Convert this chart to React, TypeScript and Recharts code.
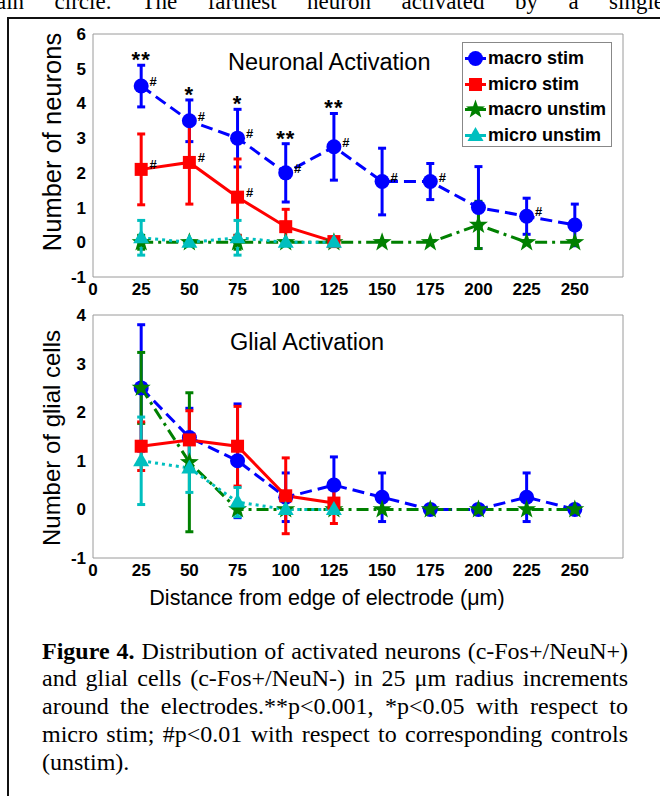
import React from "react";
import { LineChart, Line, XAxis, YAxis, ErrorBar, LabelList } from "recharts";

const SANS = "'Liberation Sans', Arial, sans-serif";
const SERIF = "'Liberation Serif', 'Times New Roman', serif";
const FRAME = "#9a9a9a";

// x positions (µm from electrode edge)
const distances = [25, 50, 75, 100, 125, 150, 175, 200, 225, 250];
const xTicks = [0, 25, 50, 75, 100, 125, 150, 175, 200, 225, 250];
const neuronTicks = [-1, 0, 1, 2, 3, 4, 5, 6];
const glialTicks = [-1, 0, 1, 2, 3, 4];

// neuronal activation
const nMacroStim = [4.5, 3.5, 3.0, 2.0, 2.75, 1.75, 1.75, 1.0, 0.75, 0.5];
const nMacroStimErr = [0.6, 0.6, 0.83, 0.84, 0.96, 0.96, 0.52, 1.18, 0.52, 0.6];
const nMicroStim = [2.1, 2.3, 1.3, 0.45, 0.02, null, null, null, null, null];
const nMicroStimErr = [1.02, 1.2, 1.1, 0.5, 0.05, null, null, null, null, null];
const nMacroUnstim = [0, 0, 0, 0, 0, 0, 0, 0.5, 0, 0];
const nMacroUnstimErr = [0.2, 0, 0.2, 0, 0, 0, 0, 0.68, 0, 0];
const nMicroUnstim = [0.13, 0, 0.13, 0, 0, null, null, null, null, null];
const nMicroUnstimErr = [0.5, 0, 0.5, 0, 0, null, null, null, null, null];
const nMacroSig = ["**", "*", "*", "**", "**", "", "", "", "", ""];
const nMacroHash = ["#", "#", "#", "#", "#", "#", "#", "", "#", ""];
const nMicroHash = ["#", "#", "#", "", "", "", "", "", "", ""];

// glial activation
const gMacroStim = [2.5, 1.48, 1.0, 0.25, 0.5, 0.25, 0, 0, 0.25, 0];
const gMacroStimErr = [1.3, 0.6, 1.17, 0.5, 0.58, 0.5, 0, 0, 0.5, 0];
const gMicroStim = [1.3, 1.43, 1.3, 0.28, 0.13, null, null, null, null, null];
const gMicroStimErr = [0.5, 0.6, 0.82, 0.78, 0.42, null, null, null, null, null];
const gMacroUnstim = [2.5, 0.97, 0, 0, 0, 0, 0, 0, 0, 0];
const gMacroUnstimErr = [0.73, 1.43, 0, 0, 0, 0, 0, 0, 0, 0];
const gMicroUnstim = [1.0, 0.85, 0.15, 0, 0, null, null, null, null, null];
const gMicroUnstimErr = [0.9, 0.5, 0.3, 0, 0, null, null, null, null, null];

const STYLE: Record<string, any> = {
  macroStim: { color: "#0000ff", dash: "12 6", shape: "circle", label: "macro stim" },
  microStim: { color: "#ff0000", dash: undefined, shape: "square", label: "micro stim" },
  macroUnstim: { color: "#008000", dash: "12 5 3 5", shape: "star", label: "macro unstim" },
  microUnstim: { color: "#00bfbf", dash: "3 4", shape: "triangle", label: "micro unstim" },
};
const DRAW_ORDER = ["macroStim", "macroUnstim", "microStim", "microUnstim"];
const LEGEND_ORDER = ["macroStim", "microStim", "macroUnstim", "microUnstim"];

const neuronRows = distances.map((d, i) => ({
  d,
  macroStim: nMacroStim[i],
  macroStimErr: nMacroStimErr[i],
  microStim: nMicroStim[i],
  microStimErr: nMicroStimErr[i],
  macroUnstim: nMacroUnstim[i],
  macroUnstimErr: nMacroUnstimErr[i],
  microUnstim: nMicroUnstim[i],
  microUnstimErr: nMicroUnstimErr[i],
  macroStimHash: nMacroHash[i],
  microStimHash: nMicroHash[i],
  sigTop: nMacroSig[i] ? nMacroStim[i] + nMacroStimErr[i] : null,
  sig: nMacroSig[i],
}));

const glialRows = distances.map((d, i) => ({
  d,
  macroStim: gMacroStim[i],
  macroStimErr: gMacroStimErr[i],
  microStim: gMicroStim[i],
  microStimErr: gMicroStimErr[i],
  macroUnstim: gMacroUnstim[i],
  macroUnstimErr: gMacroUnstimErr[i],
  microUnstim: gMicroUnstim[i],
  microUnstimErr: gMicroUnstimErr[i],
}));

function starPoints(cx: number, cy: number, R: number, r: number) {
  const pts: string[] = [];
  for (let k = 0; k < 10; k++) {
    const rad = k % 2 === 0 ? R : r;
    const a = -Math.PI / 2 + (k * Math.PI) / 5;
    pts.push(`${cx + rad * Math.cos(a)},${cy + rad * Math.sin(a)}`);
  }
  return pts.join(" ");
}

function Marker({ shape, cx, cy, color, k }: any) {
  if (shape === "circle") return <circle key={k} cx={cx} cy={cy} r={7.5} fill={color} />;
  if (shape === "square")
    return <rect key={k} x={cx - 6.5} y={cy - 6.5} width={13} height={13} fill={color} />;
  if (shape === "star")
    return <polygon key={k} points={starPoints(cx, cy, 10, 4)} fill={color} />;
  return (
    <polygon
      key={k}
      points={`${cx},${cy - 8.5} ${cx - 8},${cy + 5.5} ${cx + 8},${cy + 5.5}`}
      fill={color}
    />
  );
}

const makeDot = (name: string) => (props: any) => {
  const { cx, cy, index, value } = props;
  if (cx == null || cy == null || value == null) return <g key={index} />;
  const s = STYLE[name];
  return <Marker k={index} shape={s.shape} cx={cx} cy={cy} color={s.color} />;
};

const HashLabel = (props: any) => {
  const { x, y, value, index } = props;
  if (!value || x == null || y == null) return <g key={index} />;
  return (
    <text
      key={index}
      x={x + 12}
      y={y}
      fontSize={13}
      fontWeight="bold"
      fontFamily={SANS}
      fill="#000"
      textAnchor="middle"
    >
      {value}
    </text>
  );
};

const SigLabel = (props: any) => {
  const { x, y, value, index } = props;
  if (!value || x == null || y == null) return <g key={index} />;
  return (
    <text
      key={index}
      x={x}
      y={y + 2}
      fontSize={22}
      fontWeight="bold"
      fontFamily={SANS}
      fill="#000"
      textAnchor="middle"
      letterSpacing={1}
    >
      {value}
    </text>
  );
};

function Panel({ rows, yTicks, top, height, marginTop, annotate }: any) {
  const yDomain = [yTicks[0], yTicks[yTicks.length - 1]];
  const tickFont = { fill: "#000", fontSize: 17, fontWeight: "bold", fontFamily: SANS };
  return (
    <div style={{ position: "absolute", left: 0, top }}>
      <LineChart
        width={660}
        height={height}
        data={rows}
        margin={{ top: marginTop, right: 37, left: 53, bottom: 0 }}
      >
        <XAxis
          dataKey="d"
          type="number"
          domain={[0, 275]}
          ticks={xTicks}
          interval={0}
          height={23}
          tickLine={false}
          tickSize={0}
          tickMargin={6}
          axisLine={{ stroke: FRAME }}
          tick={tickFont}
        />
        <XAxis
          xAxisId="top"
          orientation="top"
          mirror
          dataKey="d"
          type="number"
          domain={[0, 275]}
          ticks={xTicks}
          interval={0}
          tick={false}
          tickSize={4}
          tickLine={{ stroke: FRAME }}
          axisLine={{ stroke: FRAME }}
        />
        <XAxis
          xAxisId="bm"
          orientation="bottom"
          mirror
          dataKey="d"
          type="number"
          domain={[0, 275]}
          ticks={xTicks}
          interval={0}
          tick={false}
          tickSize={4}
          tickLine={{ stroke: FRAME }}
          axisLine={false}
        />
        <YAxis
          type="number"
          domain={yDomain}
          ticks={yTicks}
          interval={0}
          width={40}
          tickLine={false}
          tickSize={0}
          tickMargin={7}
          axisLine={{ stroke: FRAME }}
          tick={tickFont}
        />
        <YAxis
          yAxisId="right"
          orientation="right"
          mirror
          type="number"
          domain={yDomain}
          ticks={yTicks}
          interval={0}
          tick={false}
          tickSize={4}
          tickLine={{ stroke: FRAME }}
          axisLine={{ stroke: FRAME }}
        />
        <YAxis
          yAxisId="lm"
          orientation="left"
          mirror
          type="number"
          domain={yDomain}
          ticks={yTicks}
          interval={0}
          tick={false}
          tickSize={4}
          tickLine={{ stroke: FRAME }}
          axisLine={false}
        />
        {DRAW_ORDER.map((name) => {
          const s = STYLE[name];
          return (
            <Line
              key={name}
              type="linear"
              dataKey={name}
              stroke={s.color}
              strokeWidth={3}
              strokeDasharray={s.dash}
              dot={makeDot(name)}
              activeDot={false}
              isAnimationActive={false}
            >
              <ErrorBar
                dataKey={name + "Err"}
                width={4}
                strokeWidth={3}
                stroke={s.color}
                isAnimationActive={false}
              />
              {annotate && (name === "macroStim" || name === "microStim") && (
                <LabelList dataKey={name + "Hash"} content={HashLabel} />
              )}
            </Line>
          );
        })}
        {annotate && (
          <Line
            dataKey="sigTop"
            stroke="none"
            dot={false}
            activeDot={false}
            isAnimationActive={false}
          >
            <LabelList dataKey="sig" content={SigLabel} />
          </Line>
        )}
      </LineChart>
    </div>
  );
}

function LegendBox() {
  return (
    <div
      style={{
        position: "absolute",
        left: 462,
        top: 42,
        width: 150,
        height: 105,
        border: "1px solid #888",
        background: "#fff",
        boxSizing: "border-box",
      }}
    >
      {LEGEND_ORDER.map((name, i) => {
        const s = STYLE[name];
        return (
          <div
            key={name}
            style={{ position: "absolute", left: 0, top: 3 + i * 25.6, height: 25, display: "flex", alignItems: "center" }}
          >
            <svg width={25} height={25} style={{ display: "block" }}>
              <line x1={2} y1={12.5} x2={23} y2={12.5} stroke={s.color} strokeWidth={3} />
              <Marker shape={s.shape} cx={12.5} cy={12.5} color={s.color} k={name} />
            </svg>
            <span style={{ fontFamily: SANS, fontWeight: "bold", fontSize: 18, color: "#000", whiteSpace: "nowrap" }}>
              {s.label}
            </span>
          </div>
        );
      })}
    </div>
  );
}

const abs = (extra: any) => ({ position: "absolute" as const, whiteSpace: "nowrap" as const, ...extra });

const captionLines = [
  " Distribution of activated neurons (c-Fos+/NeuN+)",
  "and glial cells (c-Fos+/NeuN-) in 25 μm radius increments",
  "around the electrodes.**p<0.001, *p<0.05 with respect to",
  "micro stim; #p<0.01 with respect to corresponding controls",
  "(unstim).",
];

export default function App() {
  return (
    <div
      style={{
        position: "absolute",
        left: 0,
        top: 0,
        width: 660,
        height: 796,
        overflow: "hidden",
        background: "#fff",
      }}
    >
      <div
        style={abs({
          left: -4,
          top: -9,
          width: 668,
          fontFamily: SERIF,
          fontSize: 23,
          lineHeight: "22px",
          textAlign: "justify",
          textAlignLast: "justify",
        })}
      >
        ain circle. The farthest neuron activated by a single
      </div>
      <div
        style={{
          position: "absolute",
          left: 7,
          top: 17,
          width: 700,
          height: 800,
          borderLeft: "2px solid #111",
          borderTop: "2px solid #111",
        }}
      />

      <Panel rows={neuronRows} yTicks={neuronTicks} top={0} height={300} marginTop={34} annotate />
      <Panel rows={glialRows} yTicks={glialTicks} top={300} height={281} marginTop={15} annotate={false} />
      <LegendBox />

      <div style={abs({ left: 228, top: 62, transform: "translateY(-50%)", fontFamily: SANS, fontSize: 23.5 })}>
        Neuronal Activation
      </div>
      <div style={abs({ left: 230, top: 342, transform: "translateY(-50%)", fontFamily: SANS, fontSize: 23.5 })}>
        Glial Activation
      </div>
      <div
        style={abs({
          left: 52,
          top: 142,
          transform: "translate(-50%, -50%) rotate(-90deg)",
          fontFamily: SANS,
          fontSize: 25.5,
        })}
      >
        Number of neurons
      </div>
      <div
        style={abs({
          left: 52,
          top: 438,
          transform: "translate(-50%, -50%) rotate(-90deg)",
          fontFamily: SANS,
          fontSize: 24,
        })}
      >
        Number of glial cells
      </div>
      <div
        style={abs({
          left: 327,
          top: 598,
          transform: "translate(-50%, -50%)",
          fontFamily: SANS,
          fontSize: 21.5,
        })}
      >
        Distance from edge of electrode (μm)
      </div>

      {captionLines.map((line, i) => (
        <div
          key={i}
          style={abs({
            left: 42,
            top: 637.5 + i * 27.75,
            width: 586,
            fontFamily: SERIF,
            fontSize: 24,
            lineHeight: "27.5px",
            color: "#000",
            textAlign: "justify",
            textAlignLast: i < captionLines.length - 1 ? "justify" : "left",
          })}
        >
          {i === 0 && <b>Figure 4.</b>}
          {line}
        </div>
      ))}
    </div>
  );
}
